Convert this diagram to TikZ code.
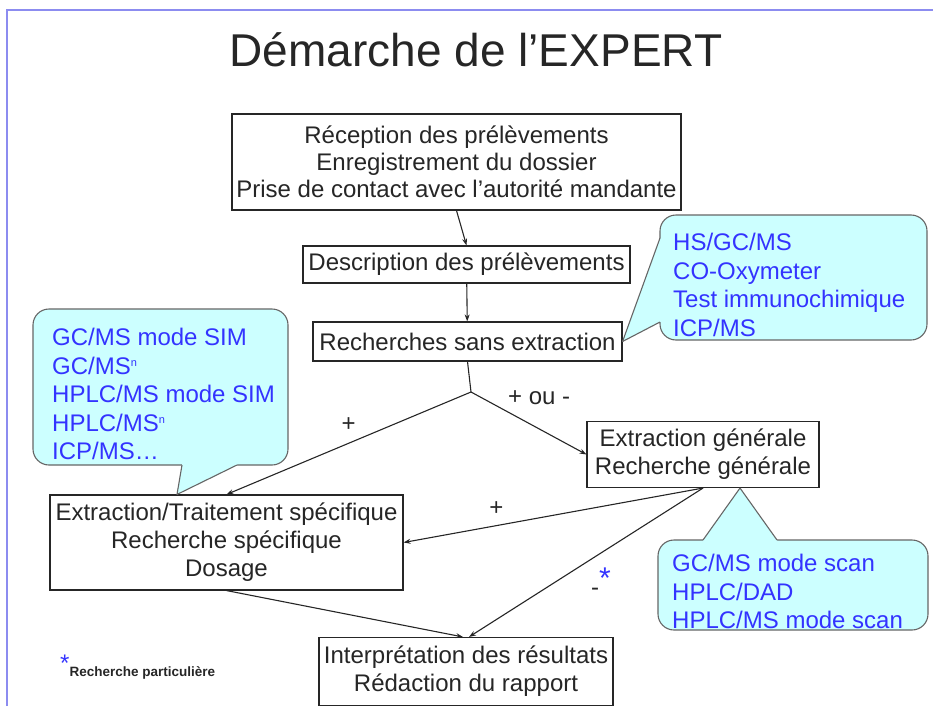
\documentclass[tikz,border=0pt]{standalone}
\usepackage{fontspec}
\setmainfont{Liberation Sans}
\usepackage{tikz}
\usetikzlibrary{arrows.meta,positioning,calc}
\definecolor{CallCyan}{HTML}{CCFFFF}
\definecolor{TechBlue}{HTML}{3333FF}
\definecolor{SlideRim}{HTML}{8C8CF0}
\definecolor{InkGray}{HTML}{262626}
\newcommand\sursc[1]{\raisebox{8pt}{\fontsize{11}{11}\selectfont #1}}
\tikzset{
  etape/.style={rectangle,draw=InkGray,line width=1.1pt,fill=white,text=InkGray,
                align=center,inner sep=0pt,font=\fontsize{24}{28}\selectfont},
  outil/.style={align=left,inner sep=0pt,text=TechBlue,font=\fontsize{24}{28.5}\selectfont},
  bulle/.style={draw=black!60,line width=1.1pt,fill=CallCyan,rounded corners=16pt},
  pointe/.style={draw=black!60,line width=1.1pt,line join=round},
  arr/.style={-{Stealth[length=7pt,width=5pt]},line width=1.1pt,color=InkGray},
  lbl/.style={font=\fontsize{24}{28}\selectfont,text=InkGray,inner sep=3pt},
}

\begin{document}
\begin{tikzpicture}[x=1pt,y=-1pt]
  \useasboundingbox (0,0) rectangle (933,706);
  % slide frame
  \draw[SlideRim,line width=2pt] (7,706) -- (7,10) -- (933,10);

  \node[anchor=base,text=InkGray,font=\fontsize{46}{50}\selectfont] (titre) at (476,67) {Démarche de l’EXPERT};

  % steps
  \node[etape,minimum width=449pt,minimum height=96pt,font=\fontsize{24}{27}\selectfont] (recep) at (456.5,162)
       {Réception des prélèvements\\Enregistrement du dossier\\Prise de contact avec l'autorité mandante};
  \node[etape,minimum width=327pt,minimum height=37pt] (descr)  at (466.5,264.5) {Description des prélèvements};
  \node[etape,minimum width=309pt,minimum height=39pt] (rsans)  at (467.5,341.5) {Recherches sans extraction};
  \node[etape,minimum width=232pt,minimum height=66pt] (gener)  at (703,454.5)   {Extraction générale\\Recherche générale};
  \node[etape,minimum width=353pt,minimum height=95pt] (specif) at (226.5,542.5) {Extraction/Traitement spécifique\\Recherche spécifique\\Dosage};
  \node[etape,minimum width=294pt,minimum height=68pt] (result) at (466,671.5)   {Interprétation des résultats\\Rédaction du rapport};
  \coordinate (fourche) at (471,392);

  \draw[arr] (recep.south) -- (descr.north);
  \draw[arr] (descr) -- (rsans);
  \draw[arr,-] (rsans.south) -- (fourche);
  \draw[arr] (fourche) -- node[lbl,above=8pt]{+} (specif.north);
  \draw[arr] (fourche) -- node[lbl,pos=0.59,above=21pt]{+ ou -} (gener.west);
  \draw[arr] (gener.south) -- node[lbl,pos=0.69,above=7pt]{+} (specif.east);
  \draw[arr] (gener.south) -- node[lbl,pos=0.72,anchor=base west,xshift=56pt,inner sep=0pt]
       {-\raisebox{6.6pt}{\fontsize{30}{30}\selectfont\textcolor{TechBlue}{*}}} ([xshift=3pt]result.north);
  \draw[arr] (specif.south) -- ([xshift=-3pt]result.north);

  % callouts
  \draw[bulle] (660,215) rectangle (927,340);
  \fill[CallCyan] (663,238) -- (660,238) -- (rsans.east) -- (660,322) -- (663,322) -- cycle;
  \draw[pointe] (660,238) -- (rsans.east) -- (660,322);

  \draw[bulle] (33,309) rectangle (288,465);
  \fill[CallCyan] (182,462) -- (182,465) -- ([xshift=-49.5pt]specif.north) -- (237,465) -- (237,462) -- cycle;
  \draw[pointe] (182,465) -- ([xshift=-49.5pt]specif.north) -- (237,465);

  \draw[bulle] (658,540) rectangle (928,630);
  \fill[CallCyan] (703,543) -- (703,540) -- ([xshift=37pt]gener.south) -- (777,540) -- (777,543) -- cycle;
  \draw[pointe] (703,540) -- ([xshift=37pt]gener.south) -- (777,540);

  \node[outil,anchor=west] (hsgc)   at (673,285)   {HS/GC/MS\\CO-Oxymeter\\Test immunochimique\\ICP/MS};
  \node[outil,anchor=west] (gcsim)  at (52,394)    {GC/MS mode SIM\\GC/MS\sursc{n}\\HPLC/MS mode SIM\\HPLC/MS\sursc{n}\\ICP/MS…};
  \node[outil,anchor=west] (gcscan) at (672,591.5) {GC/MS mode scan\\HPLC/DAD\\HPLC/MS mode scan};

  % legend
  \node[anchor=base west,inner sep=0pt] (etoile) at (60,671)
       {\fontsize{24}{28}\selectfont\textcolor{TechBlue}{*}\raisebox{-5pt}{\fontsize{13.5}{14}\selectfont\bfseries\color{InkGray} Recherche particulière}};
\end{tikzpicture}
\end{document}
